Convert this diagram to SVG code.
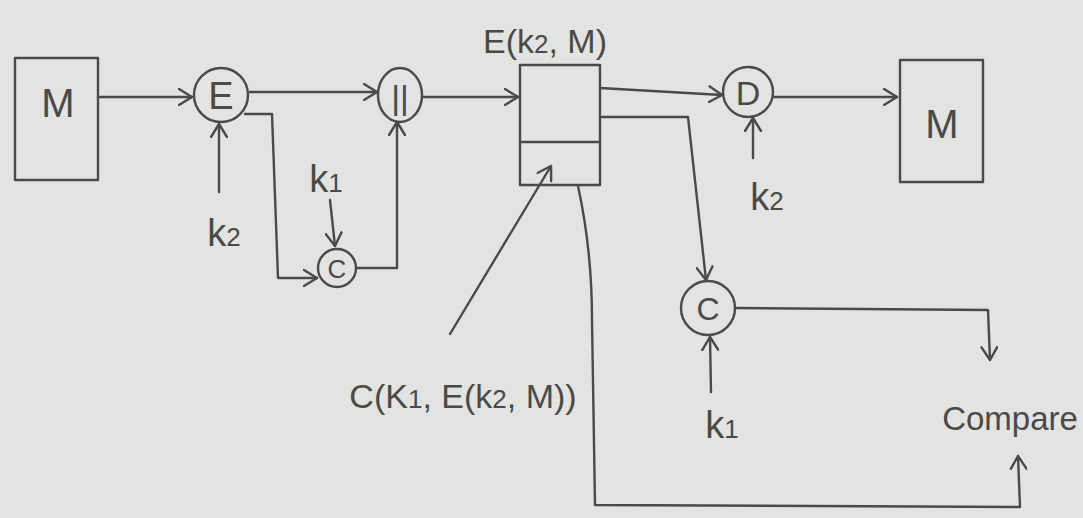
<svg xmlns="http://www.w3.org/2000/svg" width="1083" height="518" viewBox="0 0 1083 518">
<style>
.s{fill:none;stroke:#4a4a48;stroke-width:2.4;stroke-linecap:round;stroke-linejoin:round}
.t{font-family:"Liberation Sans",Arial,sans-serif;fill:#4a4a48;text-anchor:middle}
.k{font-size:38px}
.sub{font-size:26px}
</style>
<defs>
<marker id="a" viewBox="-14 -9 16 18" refX="0" refY="0" markerWidth="16" markerHeight="18" markerUnits="userSpaceOnUse" orient="auto">
<path d="M-13,-8 L0,0 L-13,8" fill="none" stroke="#4a4a48" stroke-width="2.4" stroke-linecap="round" stroke-linejoin="round"/>
</marker>
</defs>
<rect width="1083" height="518" fill="#e3e3e1"/>
<g id="connectors" class="s">
<path d="M98,97 L192,97" marker-end="url(#a)"/>
<path d="M219,192 L219,124" marker-end="url(#a)"/>
<path d="M250,92 L377,92" marker-end="url(#a)"/>
<path d="M245,114 L272,114 L278,278 L317,278" marker-end="url(#a)"/>
<path d="M330,200 L335,246" marker-end="url(#a)"/>
<path d="M356,268 L397,268 L397,122" marker-end="url(#a)"/>
<path d="M422,97 L518,97" marker-end="url(#a)"/>
<path d="M600,88 L722,95" marker-end="url(#a)"/>
<path d="M753,158 L753,118" marker-end="url(#a)"/>
<path d="M773,97 L897,97" marker-end="url(#a)"/>
<path d="M602,117 L688,117 L706,280" marker-end="url(#a)"/>
<path d="M711,392 L710,337" marker-end="url(#a)"/>
<path d="M735,308 L988,310 L990,360" marker-end="url(#a)"/>
<path d="M450,334 L551,166" marker-end="url(#a)"/>
<path d="M578,186 Q592,250 592,320 L595,505 L1020,507 L1018,456" marker-end="url(#a)"/>
</g>
<g id="M-src"><rect x="15" y="58" width="83" height="122" class="s"/><text x="58" y="117" class="t" font-size="40">M</text></g>
<g id="E"><circle cx="221" cy="95" r="27" class="s"/><text x="221" y="109" class="t" font-size="38">E</text></g>
<g id="concat"><ellipse cx="400" cy="95" rx="22" ry="27" class="s"/><text x="400" y="109" class="t" font-size="34">||</text></g>
<g id="C1"><circle cx="337" cy="268" r="19" class="s"/><text x="337" y="278" class="t" font-size="26">C</text></g>
<g id="k2a"><text x="224" y="246" class="t k">k<tspan class="sub">2</tspan></text></g>
<g id="k1a"><text x="326" y="192" class="t k">k<tspan class="sub">1</tspan></text></g>
<g id="box"><rect x="520" y="65" width="80" height="120" class="s"/><line x1="520" y1="142" x2="600" y2="142" class="s"/></g>
<g id="Ek2M"><text x="545" y="53" class="t" font-size="34">E(k<tspan class="sub">2</tspan>, M)</text></g>
<g id="D"><circle cx="748" cy="92" r="25" class="s"/><text x="748" y="105" class="t" font-size="34">D</text></g>
<g id="k2b"><text x="767" y="210" class="t k">k<tspan class="sub">2</tspan></text></g>
<g id="M-dst"><rect x="900" y="60" width="83" height="122" class="s"/><text x="942" y="138" class="t" font-size="40">M</text></g>
<g id="C2"><circle cx="708" cy="308" r="27" class="s"/><text x="708" y="320" class="t" font-size="32">C</text></g>
<g id="k1b"><text x="722" y="438" class="t k">k<tspan class="sub">1</tspan></text></g>
<g id="ctext"><text x="463" y="408" class="t" font-size="34">C(K<tspan class="sub">1</tspan>, E(k<tspan class="sub">2</tspan>, M))</text></g>
<g id="compare"><text x="1010" y="430" class="t" font-size="33">Compare</text></g>
</svg>
